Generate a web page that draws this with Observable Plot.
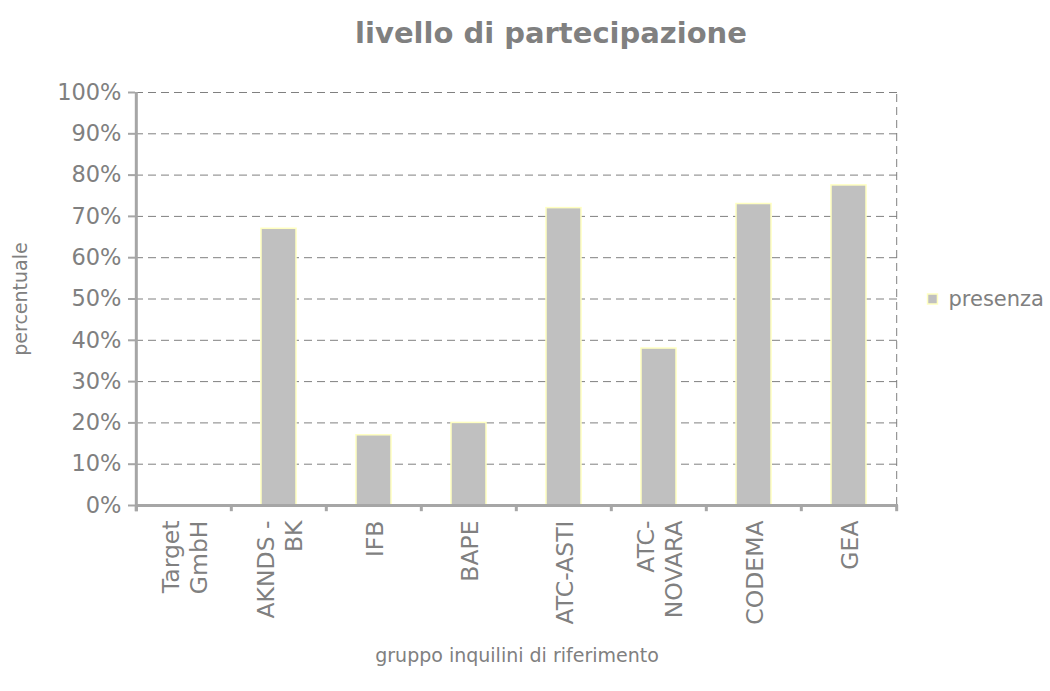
<!DOCTYPE html>
<html>
<head>
<meta charset="utf-8">
<script src="https://cdn.jsdelivr.net/npm/d3@7"></script>
<script src="https://cdn.jsdelivr.net/npm/@observablehq/plot@0.6"></script>
<style>
  body { margin: 0; background: #fff; }
  #chart svg { font-family: "DejaVu Sans", Verdana, sans-serif; }
</style>
</head>
<body>
<div id="chart"></div>
<script>
const categories = ["Target\nGmbH", "AKNDS -\nBK", "IFB", "BAPE", "ATC-ASTI", "ATC-\nNOVARA", "CODEMA", "GEA"];
const presenza = [0, 0.67, 0.17, 0.20, 0.72, 0.38, 0.73, 0.775];
const yTicks = [0, 0.1, 0.2, 0.3, 0.4, 0.5, 0.6, 0.7, 0.8, 0.9, 1.0];
const seriesName = "presenza";
const title = "livello di partecipazione";
const xTitle = "gruppo inquilini di riferimento";
const yTitle = "percentuale";

const data = categories.map((c, i) => ({cat: c, value: presenza[i]}));

const W = 1050, H = 691;
const mL = 135, mR = 152, mT = 92, mB = 186;
const step = (W - mL - mR) / categories.length;
const gray = "#808080";
const axisGray = "#a6a6a6";
const barFill = "#c0c0c0";
const barStroke = "#ffffc0";
const last = categories[categories.length - 1];

const chart = Plot.plot({
  width: W,
  height: H,
  marginLeft: mL,
  marginRight: mR,
  marginTop: mT,
  marginBottom: mB,
  x: {domain: categories, paddingInner: 0.63, paddingOuter: 0.315, align: 0.5, axis: null},
  y: {domain: [0, 1], axis: null},
  style: {color: gray},
  marks: [
    // dashed gridlines
    Plot.gridY(yTicks.filter(d => d > 0), {stroke: gray, strokeOpacity: 1, strokeDasharray: "8,5", strokeWidth: 1}),
    // right dashed border
    Plot.ruleX([last], {dx: step / 2, y1: 0, y2: 1, stroke: gray, strokeDasharray: "8,5"}),
    Plot.barY(data, {x: "cat", y: "value", fill: barFill, stroke: barStroke, strokeWidth: 1.5}),
    // left axis line and ticks
    Plot.ruleX([categories[0]], {dx: -step / 2, y1: -0.015, y2: 1, stroke: axisGray, strokeWidth: 3}),
    Plot.axisY({ticks: yTicks, tickFormat: d => Math.round(d * 100) + "%", tickSize: 7, tickPadding: 7, stroke: axisGray, strokeWidth: 2, fill: gray, fontSize: 22.5, label: null}),
    // bottom axis line and ticks
    Plot.ruleY([0], {stroke: axisGray, strokeWidth: 3}),
    Plot.ruleX(categories, {x: d => d, dx: -step / 2, y1: 0, y2: -0.015, stroke: axisGray, strokeWidth: 3}),
    Plot.ruleX([last], {dx: step / 2, y1: 0, y2: -0.015, stroke: axisGray, strokeWidth: 3}),
    // category labels
    Plot.text(categories, {x: d => d, frameAnchor: "bottom", dy: 15, rotate: -90, textAnchor: "end", lineAnchor: "middle", lineHeight: 1.2, fontSize: 23.5, fill: gray}),
    // titles
    Plot.text([title], {frameAnchor: "top", dx: 34, dy: -70, fontSize: 29, fontWeight: "bold", fill: gray}),
    Plot.text([yTitle], {frameAnchor: "left", dx: -115, rotate: -90, textAnchor: "middle", fontSize: 19, fill: gray}),
    Plot.text([xTitle], {frameAnchor: "bottom", dy: 156, textAnchor: "middle", fontSize: 19, fill: gray}),
    // legend
    Plot.dot([seriesName], {frameAnchor: "right", dx: 34, symbol: "square", r: 5.6, fill: barFill, stroke: barStroke, strokeWidth: 1.5}),
    Plot.text([seriesName], {frameAnchor: "right", dx: 50, textAnchor: "start", fontSize: 21, fill: gray})
  ]
});
document.getElementById("chart").appendChild(chart);
</script>
</body>
</html>
